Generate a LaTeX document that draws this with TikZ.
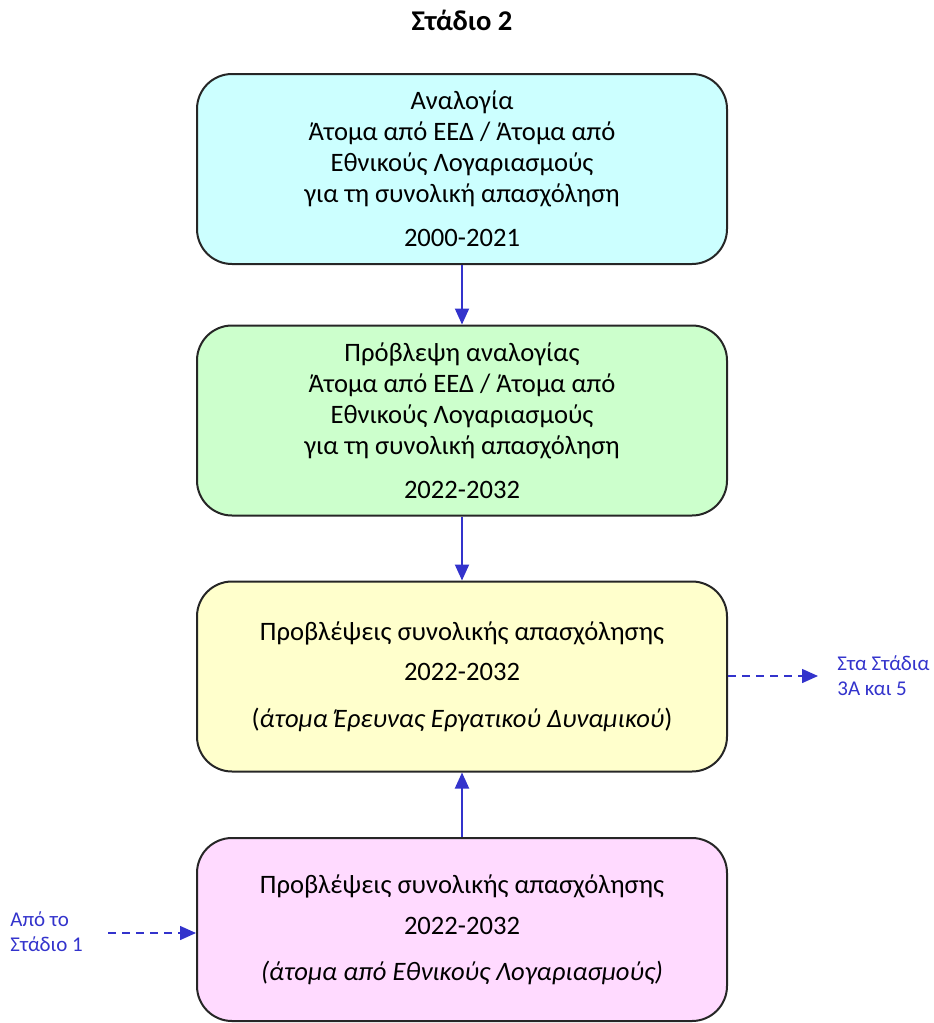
\documentclass[tikz,border=0pt]{standalone}
\usepackage{fontspec}
\setmainfont{Carlito}
\usetikzlibrary{arrows.meta}

\definecolor{flowblue}{RGB}{51,51,204}
\definecolor{fillcyan}{RGB}{204,255,255}
\definecolor{fillgreen}{RGB}{204,255,204}
\definecolor{fillyellow}{RGB}{255,255,204}
\definecolor{fillpink}{RGB}{255,218,255}

\tikzset{
  stagebox/.style={draw=black!85, line width=1pt, rounded corners=17.5pt,
    minimum width=265pt, minimum height=95pt, align=center,
    font=\fontsize{13.3}{15.5}\selectfont, inner sep=0pt},
  flowarrow/.style={draw=flowblue, line width=1pt,
    -{Triangle[length=8pt,width=7pt]}},
  sidearrow/.style={draw=flowblue, line width=0.75pt, dash pattern=on 4pt off 3pt,
    -{Triangle[length=8pt,width=7pt]}},
  sidenote/.style={text=flowblue, align=left, inner sep=0pt,
    font=\fontsize{10.5}{12.5}\selectfont}
}

\begin{document}
\begin{tikzpicture}[x=0.5pt,y=-0.5pt]

% ------------------------------------------------------------------
% Page frame: 933 x 1023 units, origin top left, y grows downwards.
% ------------------------------------------------------------------
\useasboundingbox (0,0) rectangle (933,1023);

% Title.
\node[font=\fontsize{14.3}{17}\selectfont\bfseries] (title) at (462,20) {Στάδιο 2};

% The four stages, top to bottom.
\node[stagebox, fill=fillcyan] (ratio) at (462,169)
  {Αναλογία\\Άτομα από ΕΕΔ / Άτομα από\\Εθνικούς Λογαριασμούς\\για τη συνολική απασχόληση\\[6.5pt]2000-2021};
\node[stagebox, fill=fillgreen] (ratioproj) at (462,420.5)
  {Πρόβλεψη αναλογίας\\Άτομα από ΕΕΔ / Άτομα από\\Εθνικούς Λογαριασμούς\\για τη συνολική απασχόληση\\[6.5pt]2022-2032};
\node[stagebox, fill=fillyellow] (lfsproj) at (462,676.5)
  {Προβλέψεις συνολικής απασχόλησης\\[4.5pt]2022-2032\\[8pt](\textit{άτομα Έρευνας Εργατικού Δυναμικού})};
\node[stagebox, fill=fillpink, minimum height=91.5pt] (naproj) at (462,929.5)
  {Προβλέψεις συνολικής απασχόλησης\\[5pt]2022-2032\\[7.5pt]\textit{(άτομα από Εθνικούς Λογαριασμούς)}};

% Solid connectors between the stages.
\draw[flowarrow] (ratio) -- (ratioproj);
\draw[flowarrow] (ratioproj) -- (lfsproj);
\draw[flowarrow] (naproj) -- (lfsproj);

% Links to the other stages (dashed).
\coordinate (toS3) at (818,676);
\coordinate (fromS1) at (108,933);
\draw[sidearrow] (lfsproj.east |- toS3) -- (toS3);
\draw[sidearrow] (fromS1) -- (fromS1 -| naproj.west);
\node[sidenote, anchor=west] (tostages) at (837,676) {Στα Στάδια\\3Α και 5};
\node[sidenote, anchor=west] (fromstage) at (10,932) {Από το\\Στάδιο 1};

\end{tikzpicture}
\end{document}
